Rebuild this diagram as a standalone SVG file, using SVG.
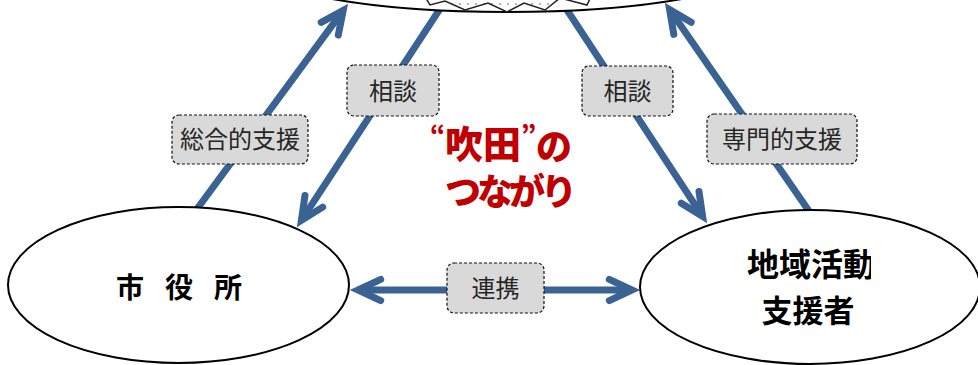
<svg xmlns="http://www.w3.org/2000/svg" width="978" height="365" viewBox="0 0 978 365">
  <style>
    .shaft { fill: none; stroke: #3A6394; stroke-width: 7; stroke-linecap: butt; marker-end: url(#head); }
    .both { marker-start: url(#head); }
    .tag rect { fill: #D9D9D9; stroke: #111; stroke-width: 1.2; stroke-dasharray: 3 2; }
    .tag text { font-family: "Noto Sans CJK JP", "Noto Sans", sans-serif; font-size: 24px; fill: #262626; text-anchor: middle; }
    .node ellipse { fill: #fff; stroke: #000; stroke-width: 2; }
    .name { font-family: "Noto Sans CJK JP", "Noto Sans", sans-serif; font-weight: 700; fill: #000; text-anchor: middle; }
    .bond { font-family: "Noto Sans CJK JP", "Noto Sans", sans-serif; font-weight: 900; fill: #C00000; }
  </style>
  <defs>
    <marker id="head" markerUnits="userSpaceOnUse" viewBox="-40 -25 50 50" markerWidth="50" markerHeight="50" refX="0" refY="0" orient="auto-start-reverse" overflow="visible">
      <path d="M-22.7,-10.6 L0,0 L-22.7,10.6" fill="none" stroke="#3A6394" stroke-width="7" stroke-linecap="round" stroke-linejoin="miter"/>
    </marker>
    <pattern id="dots" width="8" height="8" patternUnits="userSpaceOnUse">
      <rect width="8" height="8" fill="#fff"/>
      <circle cx="4" cy="4" r="1" fill="#9a9a9a"/>
    </pattern>
    <clipPath id="cut">
      <rect x="600" y="230" width="271" height="60"/>
    </clipPath>
  </defs>

  <g id="connectors">
    <!-- 総合的支援: city hall up to the top circle -->
    <path class="shaft" d="M190,218.5 L343.2,10.4"/>
    <!-- 相談: top circle down to city hall -->
    <path class="shaft" d="M446.2,-0.6 L301.4,220.3"/>
    <!-- 相談: top circle down to local supporters -->
    <path class="shaft" d="M558.8,-2.5 L702.6,216.3"/>
    <!-- 専門的支援: local supporters up to the top circle -->
    <path class="shaft" d="M813.8,217.9 L669.6,9.6"/>
    <!-- 連携: two-way link -->
    <path class="shaft both" d="M358,290 L632,290"/>

    <g class="tag" id="tag-sogo">
      <rect x="172" y="115" width="136" height="49" rx="7"/>
      <text x="240" y="148">総合的支援</text>
    </g>
    <g class="tag" id="tag-sodan-left">
      <rect x="347" y="65" width="92" height="51" rx="7"/>
      <text x="393" y="100">相談</text>
    </g>
    <g class="tag" id="tag-sodan-right">
      <rect x="582" y="66" width="91" height="50" rx="7"/>
      <text x="627.5" y="100">相談</text>
    </g>
    <g class="tag" id="tag-senmon">
      <rect x="707" y="114" width="150" height="50" rx="7"/>
      <text x="782" y="148">専門的支援</text>
    </g>
    <g class="tag" id="tag-renkei">
      <rect x="447" y="263" width="97" height="50" rx="7"/>
      <text x="495.5" y="297">連携</text>
    </g>
  </g>

  <g id="node-top" class="node">
    <ellipse cx="507" cy="-38" rx="260" ry="50"/>
    <polygon points="421,-10 430,5 445,1 465,10 488,3 507,12 524,3 545,10 560,-2 587,5 594,-10 594,-40 421,-40" fill="url(#dots)" stroke="#222" stroke-width="1.5" stroke-linejoin="miter"/>
  </g>

  <g id="node-city" class="node">
    <ellipse cx="178.5" cy="285" rx="170.5" ry="78"/>
    <text class="name" y="298" font-size="28"><tspan x="130">市</tspan><tspan x="179">役</tspan><tspan x="228">所</tspan></text>
  </g>

  <g id="node-local" class="node">
    <ellipse cx="810" cy="287" rx="170" ry="77"/>
    <text class="name" x="811" y="276" font-size="32" clip-path="url(#cut)">地域活動</text>
    <text class="name" x="808" y="322" font-size="31">支援者</text>
  </g>

  <g id="caption">
    <text class="bond"><tspan x="430" y="143" font-size="24">“</tspan><tspan x="445" y="158" font-size="38">吹田</tspan><tspan x="521" y="143" font-size="24">”</tspan><tspan x="536" y="160" font-size="36">の</tspan><tspan x="445" y="205" font-size="36" letter-spacing="-4">つながり</tspan></text>
  </g>
</svg>
